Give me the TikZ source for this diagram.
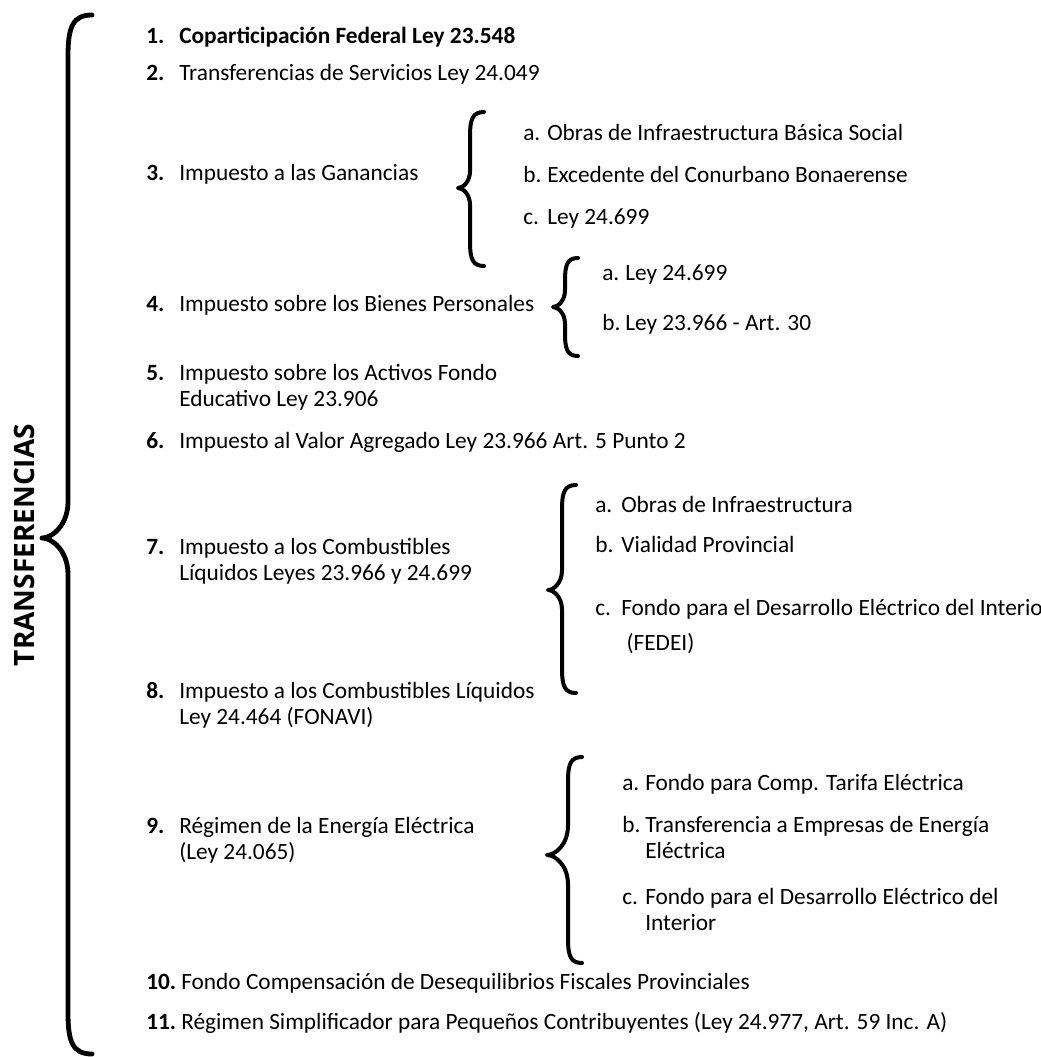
\documentclass[tikz,border=0pt]{standalone}
\usepackage{fontspec}
\setmainfont{Carlito}
\newfontfamily\headfont{Open Sans}

% curly brace: [options]{end x}{stem x}{tip x}{top y}{tip y}{bottom y}
\newcommand{\curlybrace}[7][]{%
  \draw[curl,#1] (#2,#5) .. controls ({#3+0.2*(#2-#3)},#5) and (#3,{#5+0.5*(#2-#3)}) .. (#3,{#5+1.7*(#2-#3)})
    -- (#3,{#6-1.4*(#3-#4)}) .. controls (#3,{#6-0.5*(#3-#4)}) and ({#4+0.4*(#3-#4)},#6) .. (#4,#6)
    .. controls ({#4+0.4*(#3-#4)},#6) and (#3,{#6+0.5*(#3-#4)}) .. (#3,{#6+1.4*(#3-#4)})
    -- (#3,{#7-1.7*(#2-#3)}) .. controls (#3,{#7-0.5*(#2-#3)}) and ({#3+0.2*(#2-#3)},#7) .. (#2,#7);}

\begin{document}
\begin{tikzpicture}[x=0.75pt, y=-0.75pt,
    item/.style = {anchor=base west, inner sep=0pt, font=\fontsize{17.5}{21}\selectfont},
    num/.style = {item, font=\fontsize{17.5}{21}\selectfont\bfseries},
    curl/.style = {line width=3pt, line cap=round, line join=round}]
  \clip (0,0) rectangle (1040,1057);

  % title
  \node[rotate=90, inner sep=0pt, font=\headfont\bfseries\fontsize{21}{25}\selectfont] (title) at (24,545) {TRANSFERENCIAS};
  \curlybrace[line width=3.6pt]{92}{68}{42}{15}{538}{1054}

  % main list
  \node[num] (n1) at (146,43) {1.};
  \node[num] (t1) at (179,43) {Coparticipación Federal Ley 23.548};
  \node[num] (n2) at (146,80) {2.};
  \node[item] (t2) at (179,80) {Transferencias de Servicios Ley 24.049};
  \node[num] (n3) at (146,180) {3.};
  \node[item] (t3) at (179,180) {Impuesto a las Ganancias};
  \node[num] (n4) at (146,311) {4.};
  \node[item] (t4) at (179,311) {Impuesto sobre los Bienes Personales};
  \node[num] (n5) at (146,380) {5.};
  \node[item] (t5) at (179,380) {Impuesto sobre los Activos Fondo};
  \node[item] (t5b) at (179,406) {Educativo Ley 23.906};
  \node[num] (n6) at (146,448) {6.};
  \node[item] (t6) at (179,448) {Impuesto al Valor Agregado Ley 23.966 Art. 5 Punto 2};
  \node[num] (n7) at (146,554) {7.};
  \node[item] (t7) at (179,554) {Impuesto a los Combustibles};
  \node[item] (t7b) at (179,580) {Líquidos Leyes 23.966 y 24.699};
  \node[num] (n8) at (146,698) {8.};
  \node[item] (t8) at (179,698) {Impuesto a los Combustibles Líquidos};
  \node[item] (t8b) at (179,724) {Ley 24.464 (FONAVI)};
  \node[num] (n9) at (146,833) {9.};
  \node[item] (t9) at (179,833) {Régimen de la Energía Eléctrica};
  \node[item] (t9b) at (179,859) {(Ley 24.065)};
  \node[num] (n10) at (146,989) {10.};
  \node[item] (t10) at (181,989) {Fondo Compensación de Desequilibrios Fiscales Provinciales};
  \node[num] (n11) at (146,1029) {11.};
  \node[item] (t11) at (181,1029) {Régimen Simplificador para Pequeños Contribuyentes (Ley 24.977, Art. 59 Inc. A)};

  % sub lists
  \curlybrace{484}{470}{458}{112}{188}{266}
  \node[item] (s3a) at (523,140) {a.};
  \node[item] (u3a) at (547,140) {Obras de Infraestructura Básica Social};
  \node[item] (s3b) at (523,182) {b.};
  \node[item] (u3b) at (547,182) {Excedente del Conurbano Bonaerense};
  \node[item] (s3c) at (523,224) {c.};
  \node[item] (u3c) at (547,224) {Ley 24.699};

  \curlybrace{578}{565}{553}{258}{307}{356}
  \node[item] (s4a) at (602,280) {a.};
  \node[item] (u4a) at (625,280) {Ley 24.699};
  \node[item] (s4b) at (602,330) {b.};
  \node[item] (u4b) at (625,330) {Ley 23.966 - Art. 30};

  \curlybrace{576}{562}{548}{485}{590}{693}
  \node[item] (s7a) at (595,512) {a.};
  \node[item] (u7a) at (621,512) {Obras de Infraestructura};
  \node[item] (s7b) at (595,552) {b.};
  \node[item] (u7b) at (621,552) {Vialidad Provincial};
  \node[item] (s7c) at (595,615) {c.};
  \node[item] (u7c) at (621,615) {Fondo para el Desarrollo Eléctrico del Interior};
  \node[item] (u7d) at (621,650) {\ (FEDEI)};

  \curlybrace{582}{568}{547}{757}{855}{963}
  \node[item] (s9a) at (622,790) {a.};
  \node[item] (u9a) at (645,790) {Fondo para Comp. Tarifa Eléctrica};
  \node[item] (s9b) at (622,832) {b.};
  \node[item] (u9b) at (645,832) {Transferencia a Empresas de Energía};
  \node[item] (u9c) at (645,858) {Eléctrica};
  \node[item] (s9d) at (622,904) {c.};
  \node[item] (u9d) at (645,904) {Fondo para el Desarrollo Eléctrico del};
  \node[item] (u9e) at (645,930) {Interior};
\end{tikzpicture}
\end{document}
